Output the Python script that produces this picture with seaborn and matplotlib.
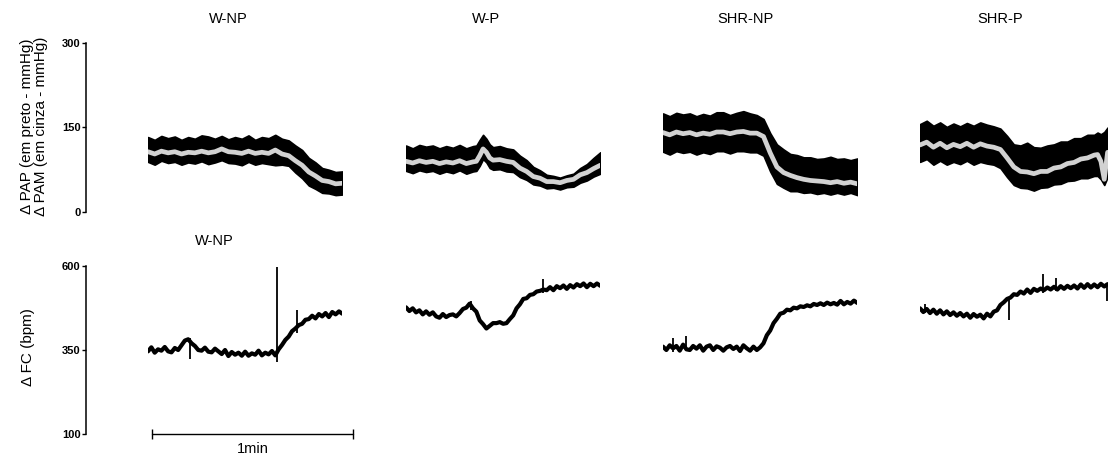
import matplotlib
matplotlib.use("Agg")
import matplotlib.pyplot as plt
import seaborn as sns

# ---------------- data ----------------
groups = ["W-NP", "W-P", "SHR-NP", "SHR-P"]
pap_ticks = [0, 150, 300]
fc_ticks = [100, 350, 600]
scale_bar_s = 60
scale_label = "1min"
ylabel_pap = "\u0394 PAP (em preto - mmHg)"
ylabel_pam = "\u0394 PAM (em cinza - mmHg)"
ylabel_fc = "\u0394 FC (bpm)"
fc_title = "W-NP"

# PAP (black band: lower..upper) and PAM (grey line), time in seconds
wnp_t = [0, 2, 4, 6, 8, 10, 12, 14, 16, 18, 20, 22, 24, 26, 28, 30, 32, 34, 36, 38,
         40, 42, 44, 46, 48, 50, 52, 54, 56, 58]
wnp_up = [133, 128, 135, 131, 134, 128, 133, 130, 136, 134, 130, 135, 129, 133, 130, 136, 128, 133, 131, 137,
          130, 127, 118, 110, 96, 88, 78, 75, 71, 72]
wnp_mean = [107, 103, 108, 105, 107, 103, 106, 105, 108, 105, 107, 112, 107, 106, 104, 108, 104, 106, 104, 110,
            103, 100, 91, 83, 71, 64, 56, 54, 50, 51]
wnp_lo = [89, 84, 91, 87, 89, 84, 88, 86, 90, 85, 88, 92, 87, 86, 83, 89, 84, 87, 85, 83,
          84, 82, 70, 60, 47, 41, 34, 33, 30, 31]

wp_t = [0, 2, 4, 6, 8, 10, 12, 14, 16, 18, 20, 21, 22, 23, 24, 25, 26, 28, 30, 32,
        34, 36, 38, 40, 42, 44, 46, 48, 50, 52, 54, 56, 58]
wp_up = [118, 113, 119, 116, 118, 113, 117, 114, 119, 113, 117, 118, 128, 137, 130, 120, 115, 117, 113, 111,
         100, 92, 80, 74, 66, 64, 61, 65, 68, 78, 85, 96, 106]
wp_mean = [90, 87, 91, 88, 90, 86, 89, 87, 91, 86, 89, 90, 100, 112, 106, 96, 92, 93, 90, 88,
           78, 72, 63, 60, 54, 54, 52, 56, 58, 66, 70, 77, 83]
wp_lo = [73, 69, 74, 71, 73, 68, 72, 69, 74, 68, 72, 73, 82, 94, 88, 78, 75, 76, 72, 71,
         62, 57, 49, 47, 42, 43, 40, 44, 45, 52, 56, 63, 68]

shrnp_t = [0, 2, 4, 6, 8, 10, 12, 14, 16, 18, 20, 22, 24, 26, 28, 30, 32, 34, 36, 38,
           40, 42, 44, 46, 48, 50, 52, 54, 56, 58]
shrnp_up = [175, 170, 176, 173, 175, 170, 174, 171, 177, 177, 172, 176, 179, 175, 172, 165, 140, 120, 111, 103,
            101, 97, 97, 94, 95, 98, 94, 95, 92, 95]
shrnp_mean = [141, 137, 142, 139, 141, 137, 140, 138, 142, 142, 139, 142, 143, 140, 140, 134, 105, 80, 70, 65,
              61, 58, 56, 55, 54, 52, 54, 51, 53, 50]
shrnp_lo = [107, 102, 108, 105, 107, 102, 106, 103, 108, 108, 104, 108, 108, 106, 106, 100, 72, 50, 43, 37,
            37, 34, 35, 32, 34, 31, 34, 31, 34, 30]

shrp_t = [0, 2, 4, 6, 8, 10, 12, 14, 16, 18, 20, 22, 24, 26, 28, 30, 32, 34, 36, 38,
          40, 42, 44, 46, 48, 50, 52, 53, 54, 55, 56]
shrp_up = [156, 162, 153, 159, 151, 157, 152, 158, 153, 159, 155, 152, 148, 135, 120, 118, 123, 115, 114, 118,
           120, 125, 125, 131, 131, 137, 137, 141, 138, 142, 150]
shrp_mean = [119, 124, 115, 122, 114, 120, 116, 122, 115, 121, 117, 115, 111, 96, 80, 72, 71, 68, 72, 72,
             78, 80, 86, 88, 94, 96, 101, 102, 90, 58, 106]
shrp_lo = [89, 94, 84, 91, 84, 89, 85, 91, 84, 89, 86, 84, 78, 62, 48, 43, 42, 38, 43, 44,
           49, 50, 55, 56, 60, 60, 64, 64, 58, 48, 62]

# FC (heart rate), one sample per second
fc_t = [0, 1, 2, 3, 4, 5, 6, 7, 8, 9, 10, 11, 12, 13, 14, 15, 16, 17, 18, 19,
        20, 21, 22, 23, 24, 25, 26, 27, 28, 29, 30, 31, 32, 33, 34, 35, 36, 37, 38, 39,
        40, 41, 42, 43, 44, 45, 46, 47, 48, 49, 50, 51, 52, 53, 54, 55, 56, 57, 58]
wnp_fc = [346, 358, 342, 352, 348, 359, 346, 343, 356, 350,
          364, 378, 382, 370, 362, 350, 348, 357, 345, 343,
          354, 346, 338, 350, 332, 344, 336, 342, 333, 345,
          333, 340, 336, 348, 334, 342, 337, 347, 334, 352,
          365, 380, 390, 406, 414, 424, 428, 440, 442, 452,
          444, 457, 450, 460, 448, 463, 456, 465, 458]
wp_fc = [477, 466, 474, 462, 468, 456, 465, 455, 462, 450,
         446, 457, 448, 454, 456, 450, 460, 472, 476, 488,
         474, 464, 438, 427, 414, 422, 430, 430, 433, 428,
         430, 442, 453, 474, 486, 502, 504, 514, 516, 524,
         526, 530, 528, 537, 528, 540, 534, 542, 532, 543,
         536, 546, 540, 548, 537, 547, 540, 548, 541]
shrnp_fc = [360, 350, 364, 355, 362, 348, 366, 352, 350, 362,
            354, 364, 348, 360, 364, 350, 361, 357, 348, 358,
            362, 353, 360, 347, 364, 355, 348, 360, 350, 358,
            370, 394, 408, 430, 443, 458, 461, 470, 468, 476,
            474, 480, 478, 483, 480, 487, 484, 489, 484, 491,
            486, 490, 485, 496, 486, 493, 488, 497, 490]
shrp_fc = [474, 463, 472, 460, 470, 458, 468, 456, 465, 454,
           462, 452, 460, 450, 458, 446, 457, 449, 455, 444,
           458, 450, 464, 468, 484, 492, 502, 506, 516, 514,
           524, 518, 530, 520, 532, 526, 533, 528, 536, 530,
           538, 530, 540, 532, 541, 534, 542, 533, 545, 535,
           546, 536, 545, 537, 547, 539, 546]

# isolated spikes in the FC traces: time, low, high
wnp_spk_t, wnp_spk_lo, wnp_spk_hi = [12.5, 38.6, 44.6], [322, 313, 400], [385, 597, 470]
wp_spk_t, wp_spk_lo, wp_spk_hi = [19.5, 41.0], [470, 520], [495, 560]
shrnp_spk_t, shrnp_spk_lo, shrnp_spk_hi = [7.0, 3.0], [350, 345], [392, 385]
shrp_spk_t, shrp_spk_lo, shrp_spk_hi = [1.5, 26.6, 36.6, 40.6, 55.8], [460, 440, 520, 525, 495], [488, 505, 575, 565, 548]

pap_sets = [(wnp_t, wnp_lo, wnp_mean, wnp_up), (wp_t, wp_lo, wp_mean, wp_up),
            (shrnp_t, shrnp_lo, shrnp_mean, shrnp_up), (shrp_t, shrp_lo, shrp_mean, shrp_up)]
fc_sets = [(fc_t[:len(wnp_fc)], wnp_fc, wnp_spk_t, wnp_spk_lo, wnp_spk_hi),
           (fc_t[:len(wp_fc)], wp_fc, wp_spk_t, wp_spk_lo, wp_spk_hi),
           (fc_t[:len(shrnp_fc)], shrnp_fc, shrnp_spk_t, shrnp_spk_lo, shrnp_spk_hi),
           (fc_t[:len(shrp_fc)], shrp_fc, shrp_spk_t, shrp_spk_lo, shrp_spk_hi)]

# ---------------- style / layout ----------------
sns.set_style("white")
plt.rcParams["font.family"] = ["Liberation Sans", "DejaVu Sans"]
plt.rcParams["text.color"] = "black"
plt.rcParams["ytick.color"] = "black"
plt.rcParams["axes.labelcolor"] = "black"

W, H = 1108, 457
fig = plt.figure(figsize=(W / 100, H / 100), dpi=100)

col_left_px = [148, 406, 663, 920]
title_x_px = [228, 486, 745, 1000]
px_per_s = 201 / 60.0
span_s = 58
ax_w = span_s * px_per_s / W
top_rect = ((H - 212) / H, (212 - 43) / H)
bot_rect = ((H - 434) / H, (434 - 266) / H)
spine_offset_pt = (148 - 86) * 0.72
grey = "#d2d2d2"


def style_axes(ax, ticks, show_axis):
    ax.set_xlim(0, span_s)
    ax.set_ylim(ticks[0], ticks[-1])
    ax.set_xticks([])
    for s in ["top", "right", "bottom"]:
        ax.spines[s].set_visible(False)
    ax.set_xlabel("")
    ax.set_ylabel("")
    ax.patch.set_alpha(0)
    if show_axis:
        ax.spines["left"].set_visible(True)
        ax.spines["left"].set_color("black")
        ax.spines["left"].set_linewidth(1.1)
        ax.spines["left"].set_position(("outward", spine_offset_pt))
        ax.set_yticks(ticks)
        ax.set_yticklabels([str(v) for v in ticks])
        ax.tick_params(axis="y", direction="out", length=3, width=1, pad=1,
                       labelsize=8, colors="black", left=True)
        for lbl in ax.get_yticklabels():
            lbl.set_fontweight("bold")
    else:
        ax.spines["left"].set_visible(False)
        ax.set_yticks([])


for i, g in enumerate(groups):
    left = col_left_px[i] / W
    # PAP / PAM
    ax = fig.add_axes([left, top_rect[0], ax_w, top_rect[1]])
    t, lo, mean, up = pap_sets[i]
    ax.fill_between(t, lo, up, color="black", edgecolor="black", linewidth=1.2)
    sns.lineplot(x=t, y=mean, color=grey, linewidth=3.4, ax=ax, sort=False)
    style_axes(ax, pap_ticks, i == 0)
    fig.text(title_x_px[i] / W, 1 - 19 / H, g, ha="center", va="center", fontsize=10.5)

    # FC
    axb = fig.add_axes([left, bot_rect[0], ax_w, bot_rect[1]])
    tf, fc, st, slo, shi = fc_sets[i]
    sns.lineplot(x=tf, y=fc, color="black", linewidth=3.0, ax=axb, sort=False)
    axb.vlines(st, slo, shi, color="black", linewidth=1.3)
    style_axes(axb, fc_ticks, i == 0)
    if i == 0:
        x0 = (152 - 148) / px_per_s
        axb.plot([x0, x0 + scale_bar_s], [fc_ticks[0], fc_ticks[0]], color="black",
                 linewidth=1.0, marker="|", markersize=7, markeredgewidth=1.0, clip_on=False)

fig.text(214 / W, 1 - 241 / H, fc_title, ha="center", va="center", fontsize=10.5)
fig.text(253 / W, 1 - 449 / H, scale_label, ha="center", va="center", fontsize=10.5)
fig.text(27 / W, 1 - 126 / H, ylabel_pap, rotation=90, ha="center", va="center", fontsize=11)
fig.text(41 / W, 1 - 126 / H, ylabel_pam, rotation=90, ha="center", va="center", fontsize=11)
fig.text(28 / W, 1 - 347 / H, ylabel_fc, rotation=90, ha="center", va="center", fontsize=11)

fig.savefig("out.png", dpi=100)
